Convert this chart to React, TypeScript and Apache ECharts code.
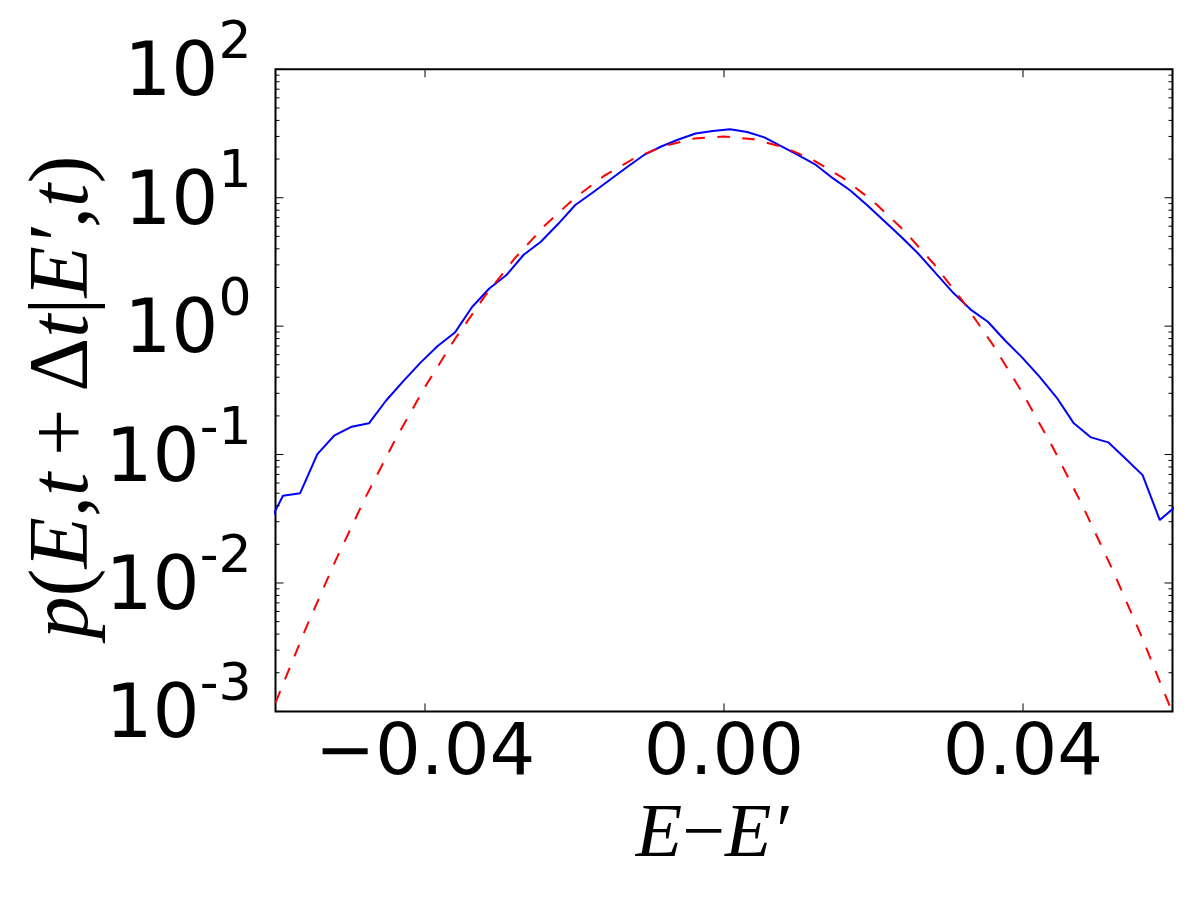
import React, { useEffect, useRef } from "react";
import * as echarts from "echarts";

// Histogram bin centres (E - E') and the measured distribution (blue line)
const BLUE_X = [
  -0.0613, -0.059, -0.0567, -0.0544, -0.0521, -0.0498, -0.0475, -0.0452, -0.0429, -0.0406,
  -0.0383, -0.036, -0.0337, -0.0314, -0.0291, -0.0268, -0.0245, -0.0222, -0.0199, -0.0176,
  -0.0153, -0.013, -0.0107, -0.0084, -0.0061, -0.0038, -0.0015, 0.0008, 0.0031, 0.0054,
  0.0077, 0.01, 0.0123, 0.0146, 0.0169, 0.0192, 0.0215, 0.0238, 0.0261, 0.0284,
  0.0307, 0.033, 0.0353, 0.0376, 0.0399, 0.0422, 0.0445, 0.0468, 0.0491, 0.0514,
  0.0537, 0.056, 0.0583, 0.0606,
];
const BLUE_Y = [
  0.0261, 0.0478, 0.05, 0.1009, 0.1413, 0.1648, 0.175, 0.2636, 0.3733, 0.52,
  0.7, 0.891, 1.409, 1.963, 2.5, 3.597, 4.539, 6.237, 8.77, 10.94,
  13.74, 17.26, 21.53, 25.06, 28.38, 31.62, 33.07, 34.12, 32.51, 29.51,
  25.06, 21.33, 17.99, 14.13, 11.38, 8.69, 6.53, 4.9, 3.61, 2.55,
  1.81, 1.346, 1.081, 0.773, 0.569, 0.405, 0.278, 0.175, 0.136, 0.1245,
  0.0933, 0.0692, 0.0309, 0.0403,
];

// Gaussian reference curve (red dashed)
const RED_X = [
  -0.06, -0.056, -0.052, -0.048, -0.044, -0.04, -0.036, -0.032, -0.028, -0.024,
  -0.02, -0.016, -0.012, -0.008, -0.004, 0.0, 0.004, 0.008, 0.012, 0.016,
  0.02, 0.024, 0.028, 0.032, 0.036, 0.04, 0.044, 0.048, 0.052, 0.056, 0.06,
];
const RED_Y = [
  0.00117, 0.004355, 0.0148, 0.04591, 0.13, 0.3362, 0.7937, 1.711, 3.366, 6.046,
  9.917, 14.85, 20.3, 25.33, 28.86, 30.02, 28.51, 24.72, 19.56, 14.14,
  9.326, 5.616, 3.089, 1.55, 0.7108, 0.2973, 0.1136, 0.03961, 0.01261, 0.003666, 0.000973,
];

const X_MAJOR_TICKS = [-0.04, 0.0, 0.04];
const Y_DECADES = [0.001, 0.01, 0.1, 1, 10, 100];
const Y_MINOR_MULT = [2, 3, 4, 5, 6, 7, 8, 9];

const X_MIN = -0.06;
const X_MAX = 0.06;
const Y_MIN = 0.001;
const Y_MAX = 100;

export default function App() {
  const ref = useRef<HTMLDivElement>(null);

  useEffect(() => {
    if (!ref.current) return;
    const chart = echarts.init(ref.current, null, { renderer: "svg" });

    const tickData: number[][] = [];
    X_MAJOR_TICKS.forEach((v) => tickData.push([v, 1, 0, 8]));
    Y_DECADES.forEach((v) => tickData.push([0, v, 1, 8]));
    Y_DECADES.slice(0, -1).forEach((d) =>
      Y_MINOR_MULT.forEach((m) => tickData.push([0, d * m, 1, 4]))
    );

    const sansFont = "'DejaVu Sans', 'Noto Sans', sans-serif";
    const serifFont = "'Liberation Serif', 'DejaVu Serif', serif";

    chart.setOption({
      animation: false,
      backgroundColor: "#ffffff",
      grid: {
        left: 275.5,
        right: 27.5,
        top: 69.3,
        bottom: 188.6,
        show: true,
        borderColor: "#000000",
        borderWidth: 2,
        backgroundColor: "transparent",
        containLabel: false,
        outerBoundsMode: "none",
      },
      xAxis: {
        type: "value",
        min: X_MIN,
        max: X_MAX,
        interval: 0.02,
        axisLine: { show: false },
        axisTick: { show: false },
        splitLine: { show: false },
        axisLabel: {
          margin: 2,
          fontFamily: sansFont,
          fontSize: 72,
          lineHeight: 72,
          color: "#000000",
          hideOverlap: false,
          showMinLabel: true,
          showMaxLabel: true,
          formatter: (v: number) => {
            const k = Math.round(v / 0.02);
            if (k % 2 !== 0 || Math.abs(k) > 2) return "";
            const r = Math.round(v * 100) / 100;
            if (r === 0) return "0.00";
            return (r < 0 ? "\u2212" : "") + Math.abs(r).toFixed(2);
          },
        },
      },
      yAxis: {
        type: "log",
        logBase: 10,
        min: Y_MIN,
        max: Y_MAX,
        axisLine: { show: false },
        axisTick: { show: false },
        splitLine: { show: false },
        axisLabel: {
          margin: 24,
          color: "#000000",
          formatter: (v: number) => {
            const e = Math.round(Math.log10(v));
            return "{b|10}{s|" + (e < 0 ? "-" + -e : String(e)) + "}";
          },
          rich: {
            b: { fontFamily: sansFont, fontSize: 74, lineHeight: 110, color: "#000000" },
            s: {
              fontFamily: sansFont,
              fontSize: 52,
              lineHeight: 28,
              verticalAlign: "top",
              color: "#000000",
            },
          },
        },
      },
      series: [
        {
          type: "line",
          data: BLUE_X.map((x, i) => [x, BLUE_Y[i]]),
          symbol: "none",
          showSymbol: false,
          clip: true,
          lineStyle: { color: "#0000ff", width: 2 },
          z: 2,
        },
        {
          type: "line",
          data: RED_X.map((x, i) => [x, RED_Y[i]]),
          symbol: "none",
          showSymbol: false,
          clip: true,
          lineStyle: { color: "#ff0000", width: 2, type: [12.5, 12.5] },
          z: 3,
        },
        {
          type: "custom",
          coordinateSystem: "cartesian2d",
          data: tickData,
          encode: { x: 0, y: 1 },
          clip: false,
          silent: true,
          z: 4,
          renderItem: (_params: any, api: any) => {
            const kind = api.value(2);
            const len = api.value(3);
            const st = { stroke: "#000000", lineWidth: 1 };
            if (kind === 0) {
              const x = api.value(0);
              const b = api.coord([x, Y_MIN]);
              const t = api.coord([x, Y_MAX]);
              return {
                type: "group",
                children: [
                  { type: "line", shape: { x1: b[0], y1: b[1], x2: b[0], y2: b[1] - len }, style: st },
                  { type: "line", shape: { x1: t[0], y1: t[1], x2: t[0], y2: t[1] + len }, style: st },
                ],
              };
            }
            const y = api.value(1);
            const l = api.coord([X_MIN, y]);
            const r = api.coord([X_MAX, y]);
            return {
              type: "group",
              children: [
                { type: "line", shape: { x1: l[0], y1: l[1], x2: l[0] + len, y2: l[1] }, style: st },
                { type: "line", shape: { x1: r[0], y1: r[1], x2: r[0] - len, y2: r[1] }, style: st },
              ],
            };
          },
        },
      ],
      graphic: [
        {
          type: "text",
          x: 58,
          y: 397,
          rotation: Math.PI / 2,
          style: {
            text:
              "{i|p}{n|(}{i|E}{n|,}{i|t}{n|\u2009+\u2009\u0394}{i|t}{n||}{i|E\u2032}{n|,}{i|t}{n|)}",
            align: "center",
            verticalAlign: "middle",
            fill: "#000000",
            rich: {
              i: { fontFamily: serifFont, fontStyle: "italic", fontSize: 84, fill: "#000000" },
              n: { fontFamily: serifFont, fontSize: 84, fill: "#000000" },
            },
          },
        },
        {
          type: "text",
          x: 712,
          y: 830,
          style: {
            text: "{i|E}{n|\u2212}{i|E\u2032}",
            align: "center",
            verticalAlign: "middle",
            fill: "#000000",
            rich: {
              i: { fontFamily: serifFont, fontStyle: "italic", fontSize: 76, fill: "#000000" },
              n: { fontFamily: serifFont, fontSize: 76, fill: "#000000" },
            },
          },
        },
      ],
    });

    return () => chart.dispose();
  }, []);

  return (
    <div
      ref={ref}
      style={{ position: "absolute", left: 0, top: 0, width: 1200, height: 900, background: "#ffffff" }}
    />
  );
}
